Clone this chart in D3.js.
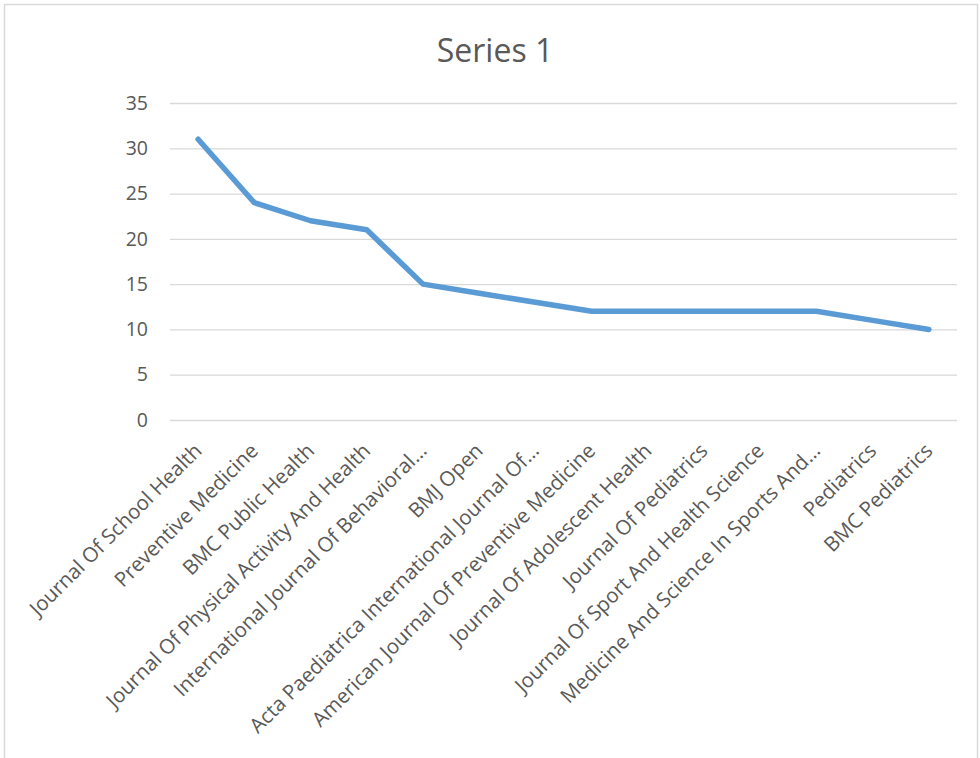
<!DOCTYPE html>
<html>
<head>
<meta charset="utf-8">
<script src="https://cdn.jsdelivr.net/npm/d3@7"></script>
<style>
  body { margin: 0; background: #fff; }
  text { font-family: "Open Sans", "Liberation Sans", sans-serif; fill: #595959; }
</style>
</head>
<body>
<div id="plot"></div>
<script>
// journals and counts
var journals = [
    "Journal Of School Health",
    "Preventive Medicine",
    "BMC Public Health",
    "Journal Of Physical Activity And Health",
    "International Journal Of Behavioral\u2026",
    "BMJ Open",
    "Acta Paediatrica International Journal Of\u2026",
    "American Journal Of Preventive Medicine",
    "Journal Of Adolescent Health",
    "Journal Of Pediatrics",
    "Journal Of Sport And Health Science",
    "Medicine And Science In Sports And\u2026",
    "Pediatrics",
    "BMC Pediatrics"
];
var counts = [31, 24, 22, 21, 15, 14, 13, 12, 12, 12, 12, 12, 11, 10];
var yTicks = [0, 5, 10, 15, 20, 25, 30, 35];
var title = "Series 1";

var W = 980, H = 758;
var margin = {t:103, r:23, b:338, l:170};
var width = W - margin.l - margin.r,
    height = H - margin.t - margin.b;

var svg = d3.select('#plot')
    .append('svg')
    .attr('width', W)
    .attr('height', H);

// chart frame
svg.append('rect')
    .attr('x', 4.5).attr('y', 4.5)
    .attr('width', W - 7).attr('height', H - 3)
    .style('fill', 'none')
    .style('stroke', '#d9d9d9')
    .style('stroke-width', 1.5);

svg.append('text')
    .attr('x', 495)
    .attr('y', 62)
    .attr('text-anchor', 'middle')
    .style('font-size', '32px')
    .text(title);

var plot = svg.append('g')
    .attr('transform', 'translate(' + margin.l + ',' + margin.t + ')');

var x = d3.scalePoint()
    .domain(journals)
    .range([0, width])
    .padding(0.5);

var y = d3.scaleLinear()
    .domain([0, 35])
    .range([height, 0]);

// gridlines + y labels
var yAxis = plot.append('g')
    .call(d3.axisLeft(y).tickValues(yTicks).tickSize(-width).tickPadding(22));
yAxis.select('.domain').remove();
yAxis.selectAll('.tick line')
    .style('stroke', '#d9d9d9')
    .style('stroke-width', 1.3);
yAxis.selectAll('.tick text')
    .style('font-size', '19.5px')
    .style('font-family', '"Open Sans", sans-serif')
    .style('fill', '#595959');

// rotated category labels
plot.selectAll('.cat')
    .data(journals)
    .enter()
    .append('text')
    .attr('class', 'cat')
    .attr('text-anchor', 'end')
    .attr('transform', function(d){
        return 'translate(' + (x(d) + 5) + ',' + (height + 32) + ') rotate(-45)';
    })
    .style('font-size', '20.5px')
    .text(function(d){ return d; });

var line = d3.line()
    .x(function(d,i){ return x(journals[i]); })
    .y(function(d){ return y(d); });

plot.append('path')
    .datum(counts)
    .attr('d', line)
    .style('fill', 'none')
    .style('stroke', '#5b9bd5')
    .style('stroke-width', 5.5)
    .style('stroke-linecap', 'round')
    .style('stroke-linejoin', 'round');
</script>
</body>
</html>
